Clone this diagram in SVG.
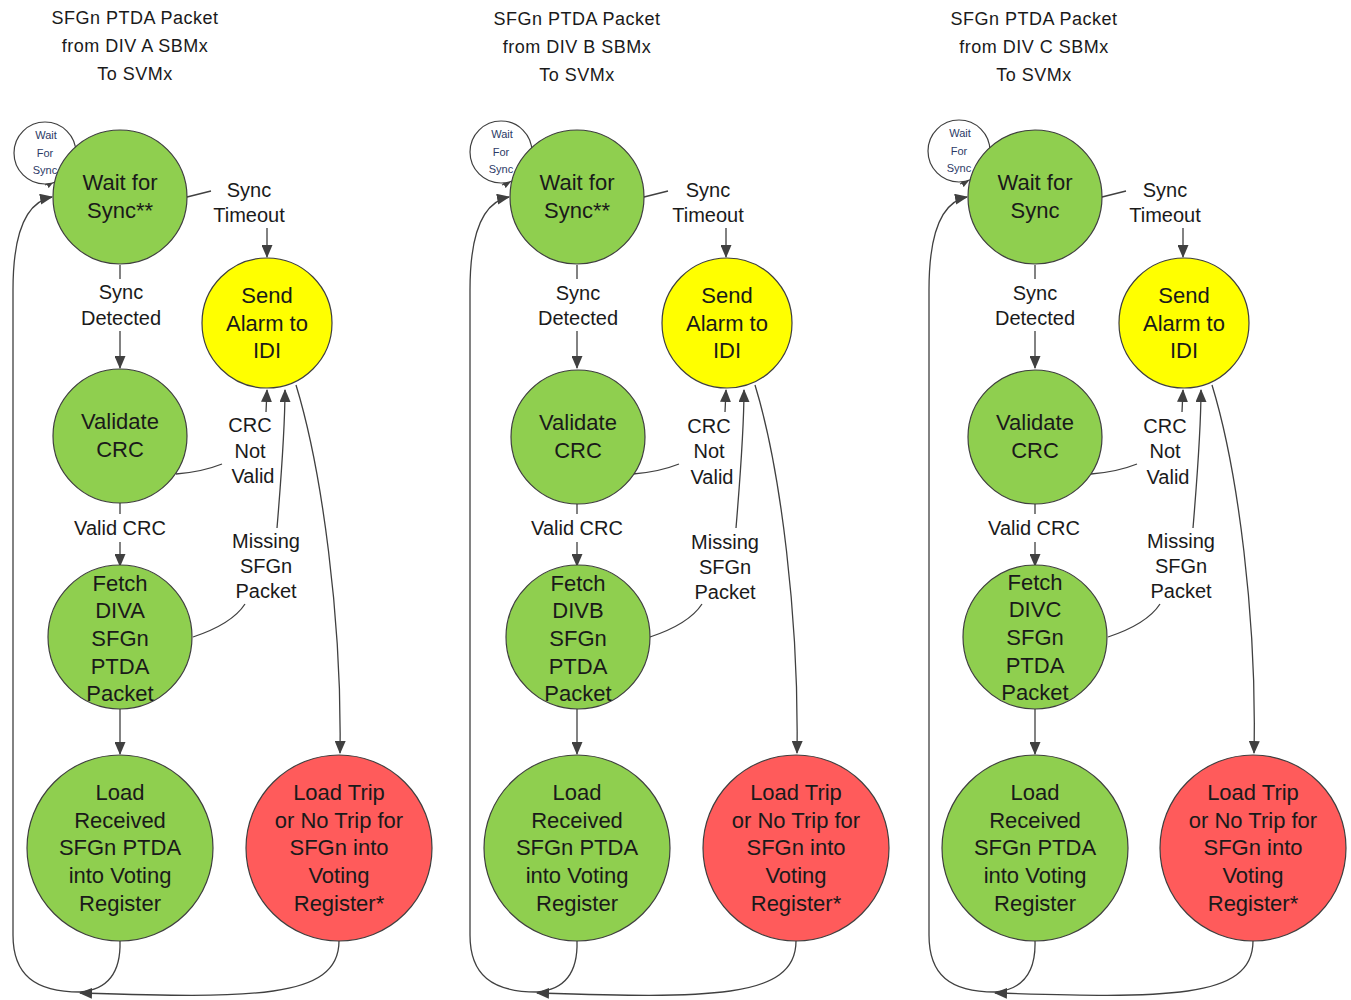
<svg xmlns="http://www.w3.org/2000/svg" width="1351" height="1000" viewBox="0 0 1351 1000">
<style>
.bg{fill:#ffffff}
.g{fill:#8fcf4f;stroke:#3f3f3f;stroke-width:1.2}
.y{fill:#ffff00;stroke:#3f3f3f;stroke-width:1.2}
.r{fill:#ff5b5b;stroke:#3f3f3f;stroke-width:1.2}
.w{fill:#ffffff;stroke:#3f3f3f;stroke-width:1.2}
.t{font-family:"Liberation Sans",Arial,sans-serif;font-size:22px;fill:#1a1a1a;text-anchor:middle}
.l{font-family:"Liberation Sans",Arial,sans-serif;font-size:20px;fill:#1a1a1a;text-anchor:middle}
.s{font-family:"Liberation Sans",Arial,sans-serif;font-size:11px;fill:#2b3a66;text-anchor:middle}
.h{font-family:"Liberation Sans",Arial,sans-serif;font-size:18px;fill:#1a1a1a;text-anchor:middle;letter-spacing:0.5px}
.c{fill:none;stroke:#404040;stroke-width:1.3}
.a{marker-end:url(#arr)}
.as{marker-end:url(#arrs)}
</style>
<defs>
<marker id="arr" markerUnits="userSpaceOnUse" markerWidth="13" markerHeight="11" refX="12" refY="5.5" orient="auto">
<path d="M0,0 L13,5.5 L0,11 z" fill="#404040"/>
</marker>
<marker id="arrs" markerUnits="userSpaceOnUse" markerWidth="9" markerHeight="8" refX="8" refY="4" orient="auto">
<path d="M0,0 L9,4 L0,8 z" fill="#404040"/>
</marker>
</defs>
<rect class="bg" x="0" y="0" width="1351" height="1000"/>

<g id="headers">
<text class="h" x="135" y="24">SFGn PTDA Packet</text>
<text class="h" x="135" y="52">from DIV A SBMx</text>
<text class="h" x="135" y="80">To SVMx</text>
<text class="h" x="577" y="25">SFGn PTDA Packet</text>
<text class="h" x="577" y="53">from DIV B SBMx</text>
<text class="h" x="577" y="81">To SVMx</text>
<text class="h" x="1034" y="25">SFGn PTDA Packet</text>
<text class="h" x="1034" y="53">from DIV C SBMx</text>
<text class="h" x="1034" y="81">To SVMx</text>
</g>

<!-- Column A -->
<g id="colA">
<g id="connectorsA">
<path class="c as" d="M45,185 Q50,183 54,181"/>
<path class="c a" d="M187,197 L211,191 M267,228 L267,257"/>
<path class="c a" d="M120,265 L120,279 M120,331 L120,368"/>
<path class="c a" d="M120,503 L120,514 M120,542 L120,566"/>
<path class="c a" d="M120,709 L120,754"/>
<path class="c a" d="M176,474 Q202,472 222,464 M266,412 L267,390"/>
<path class="c a" d="M193,637 Q232,624 245,604 M277,528 C281,480 285,430 285,390"/>
<path class="c a" d="M296,385 C322,470 342,620 340,753"/>
<path class="c a" d="M339,941 C339,1000 250,998 80,993"/>
<path class="c" d="M120,941 C121,975 105,990 80,992"/>
<path class="c a" d="M80,992 C35,992 13,975 13,935 L13,290 C13,235 25,202 52,197"/>
<g id="labelsA">
<text class="l" x="249" y="197">Sync</text>
<text class="l" x="249" y="222">Timeout</text>
<text class="l" x="121" y="299">Sync</text>
<text class="l" x="121" y="325">Detected</text>
<text class="l" x="120" y="535">Valid CRC</text>
<text class="l" x="250" y="432">CRC</text>
<text class="l" x="250" y="458">Not</text>
<text class="l" x="253" y="483">Valid</text>
<text class="l" x="266" y="548">Missing</text>
<text class="l" x="266" y="573">SFGn</text>
<text class="l" x="266" y="598">Packet</text>
</g>
</g>
<g id="A_waitForSyncLoop">
<circle class="w" cx="45" cy="153" r="31"/>
<text class="s" x="46" y="139">Wait</text>
<text class="s" x="45" y="157">For</text>
<text class="s" x="45" y="174">Sync</text>
</g>
<g id="A_waitForSync">
<circle class="g" cx="120" cy="197" r="67"/>
<text class="t" x="120" y="190">Wait for</text>
<text class="t" x="120" y="218">Sync**</text>
</g>
<g id="A_sendAlarm">
<circle class="y" cx="267" cy="323" r="65"/>
<text class="t" x="267" y="303">Send</text>
<text class="t" x="267" y="331">Alarm to</text>
<text class="t" x="267" y="358">IDI</text>
</g>
<g id="A_validateCRC">
<circle class="g" cx="120" cy="436" r="67"/>
<text class="t" x="120" y="429">Validate</text>
<text class="t" x="120" y="457">CRC</text>
</g>
<g id="A_fetch">
<circle class="g" cx="120" cy="637" r="72"/>
<text class="t" x="120" y="591">Fetch</text>
<text class="t" x="120" y="618">DIVA</text>
<text class="t" x="120" y="646">SFGn</text>
<text class="t" x="120" y="674">PTDA</text>
<text class="t" x="120" y="701">Packet</text>
</g>
<g id="A_loadReceived">
<circle class="g" cx="120" cy="848" r="93"/>
<text class="t" x="120" y="800">Load</text>
<text class="t" x="120" y="828">Received</text>
<text class="t" x="120" y="855">SFGn PTDA</text>
<text class="t" x="120" y="883">into Voting</text>
<text class="t" x="120" y="911">Register</text>
</g>
<g id="A_loadTrip">
<circle class="r" cx="339" cy="848" r="93"/>
<text class="t" x="339" y="800">Load Trip</text>
<text class="t" x="339" y="828">or No Trip for</text>
<text class="t" x="339" y="855">SFGn into</text>
<text class="t" x="339" y="883">Voting</text>
<text class="t" x="339" y="911">Register*</text>
</g>
</g>

<!-- Column B -->
<g id="colB" transform="translate(457,0)">
<g id="connectorsB">
<path class="c as" d="M45,185 Q50,183 54,181"/>
<path class="c a" d="M187,197 L211,191 M269,228 L269,257"/>
<path class="c a" d="M120,265 L120,279 M120,331 L120,368"/>
<path class="c a" d="M120,503 L120,514 M120,542 L120,566"/>
<path class="c a" d="M120,709 L120,754"/>
<path class="c a" d="M176,474 Q202,472 222,464 M268,412 L269,390"/>
<path class="c a" d="M193,637 Q232,624 245,604 M279,528 C283,480 287,430 287,390"/>
<path class="c a" d="M298,385 C324,470 342,620 340,753"/>
<path class="c a" d="M339,941 C339,1000 250,998 80,993"/>
<path class="c" d="M120,941 C121,975 105,990 80,992"/>
<path class="c a" d="M80,992 C35,992 13,975 13,935 L13,290 C13,235 25,202 52,197"/>
<g id="labelsB">
<text class="l" x="251" y="197">Sync</text>
<text class="l" x="251" y="222">Timeout</text>
<text class="l" x="121" y="300">Sync</text>
<text class="l" x="121" y="325">Detected</text>
<text class="l" x="120" y="535">Valid CRC</text>
<text class="l" x="252" y="433">CRC</text>
<text class="l" x="252" y="458">Not</text>
<text class="l" x="255" y="484">Valid</text>
<text class="l" x="268" y="549">Missing</text>
<text class="l" x="268" y="574">SFGn</text>
<text class="l" x="268" y="599">Packet</text>
</g>
</g>
<g id="B_waitForSyncLoop">
<circle class="w" cx="44" cy="152" r="31"/>
<text class="s" x="45" y="138">Wait</text>
<text class="s" x="44" y="156">For</text>
<text class="s" x="44" y="173">Sync</text>
</g>
<g id="B_waitForSync">
<circle class="g" cx="120" cy="197" r="67"/>
<text class="t" x="120" y="190">Wait for</text>
<text class="t" x="120" y="218">Sync**</text>
</g>
<g id="B_sendAlarm">
<circle class="y" cx="270" cy="323" r="65"/>
<text class="t" x="270" y="303">Send</text>
<text class="t" x="270" y="331">Alarm to</text>
<text class="t" x="270" y="358">IDI</text>
</g>
<g id="B_validateCRC">
<circle class="g" cx="121" cy="437" r="67"/>
<text class="t" x="121" y="430">Validate</text>
<text class="t" x="121" y="458">CRC</text>
</g>
<g id="B_fetch">
<circle class="g" cx="121" cy="637" r="72"/>
<text class="t" x="121" y="591">Fetch</text>
<text class="t" x="121" y="618">DIVB</text>
<text class="t" x="121" y="646">SFGn</text>
<text class="t" x="121" y="674">PTDA</text>
<text class="t" x="121" y="701">Packet</text>
</g>
<g id="B_loadReceived">
<circle class="g" cx="120" cy="848" r="93"/>
<text class="t" x="120" y="800">Load</text>
<text class="t" x="120" y="828">Received</text>
<text class="t" x="120" y="855">SFGn PTDA</text>
<text class="t" x="120" y="883">into Voting</text>
<text class="t" x="120" y="911">Register</text>
</g>
<g id="B_loadTrip">
<circle class="r" cx="339" cy="848" r="93"/>
<text class="t" x="339" y="800">Load Trip</text>
<text class="t" x="339" y="828">or No Trip for</text>
<text class="t" x="339" y="855">SFGn into</text>
<text class="t" x="339" y="883">Voting</text>
<text class="t" x="339" y="911">Register*</text>
</g>
</g>

<!-- Column C -->
<g id="colC" transform="translate(915,0)">
<g id="connectorsC">
<path class="c as" d="M45,184 Q50,182 54,180"/>
<path class="c a" d="M187,197 L211,191 M268,228 L268,257"/>
<path class="c a" d="M120,265 L120,279 M120,331 L120,368"/>
<path class="c a" d="M120,503 L120,514 M120,542 L120,566"/>
<path class="c a" d="M120,709 L120,754"/>
<path class="c a" d="M176,474 Q202,472 222,464 M267,412 L268,390"/>
<path class="c a" d="M193,637 Q232,624 245,604 M278,528 C282,480 286,430 286,390"/>
<path class="c a" d="M297,385 C323,470 342,620 339,753"/>
<path class="c a" d="M338,941 C338,1000 250,998 80,993"/>
<path class="c" d="M120,941 C121,975 105,990 80,992"/>
<path class="c a" d="M80,992 C35,992 14,975 14,935 L14,290 C14,235 25,202 52,197"/>
<g id="labelsC">
<text class="l" x="250" y="197">Sync</text>
<text class="l" x="250" y="222">Timeout</text>
<text class="l" x="120" y="300">Sync</text>
<text class="l" x="120" y="325">Detected</text>
<text class="l" x="119" y="535">Valid CRC</text>
<text class="l" x="250" y="433">CRC</text>
<text class="l" x="250" y="458">Not</text>
<text class="l" x="253" y="484">Valid</text>
<text class="l" x="266" y="548">Missing</text>
<text class="l" x="266" y="573">SFGn</text>
<text class="l" x="266" y="598">Packet</text>
</g>
</g>
<g id="C_waitForSyncLoop">
<circle class="w" cx="44" cy="151" r="31"/>
<text class="s" x="45" y="137">Wait</text>
<text class="s" x="44" y="155">For</text>
<text class="s" x="44" y="172">Sync</text>
</g>
<g id="C_waitForSync">
<circle class="g" cx="120" cy="197" r="67"/>
<text class="t" x="120" y="190">Wait for</text>
<text class="t" x="120" y="218">Sync</text>
</g>
<g id="C_sendAlarm">
<circle class="y" cx="269" cy="323" r="65"/>
<text class="t" x="269" y="303">Send</text>
<text class="t" x="269" y="331">Alarm to</text>
<text class="t" x="269" y="358">IDI</text>
</g>
<g id="C_validateCRC">
<circle class="g" cx="120" cy="437" r="67"/>
<text class="t" x="120" y="430">Validate</text>
<text class="t" x="120" y="458">CRC</text>
</g>
<g id="C_fetch">
<circle class="g" cx="120" cy="637" r="72"/>
<text class="t" x="120" y="590">Fetch</text>
<text class="t" x="120" y="617">DIVC</text>
<text class="t" x="120" y="645">SFGn</text>
<text class="t" x="120" y="673">PTDA</text>
<text class="t" x="120" y="700">Packet</text>
</g>
<g id="C_loadReceived">
<circle class="g" cx="120" cy="848" r="93"/>
<text class="t" x="120" y="800">Load</text>
<text class="t" x="120" y="828">Received</text>
<text class="t" x="120" y="855">SFGn PTDA</text>
<text class="t" x="120" y="883">into Voting</text>
<text class="t" x="120" y="911">Register</text>
</g>
<g id="C_loadTrip">
<circle class="r" cx="338" cy="848" r="93"/>
<text class="t" x="338" y="800">Load Trip</text>
<text class="t" x="338" y="828">or No Trip for</text>
<text class="t" x="338" y="855">SFGn into</text>
<text class="t" x="338" y="883">Voting</text>
<text class="t" x="338" y="911">Register*</text>
</g>
</g>
</svg>
